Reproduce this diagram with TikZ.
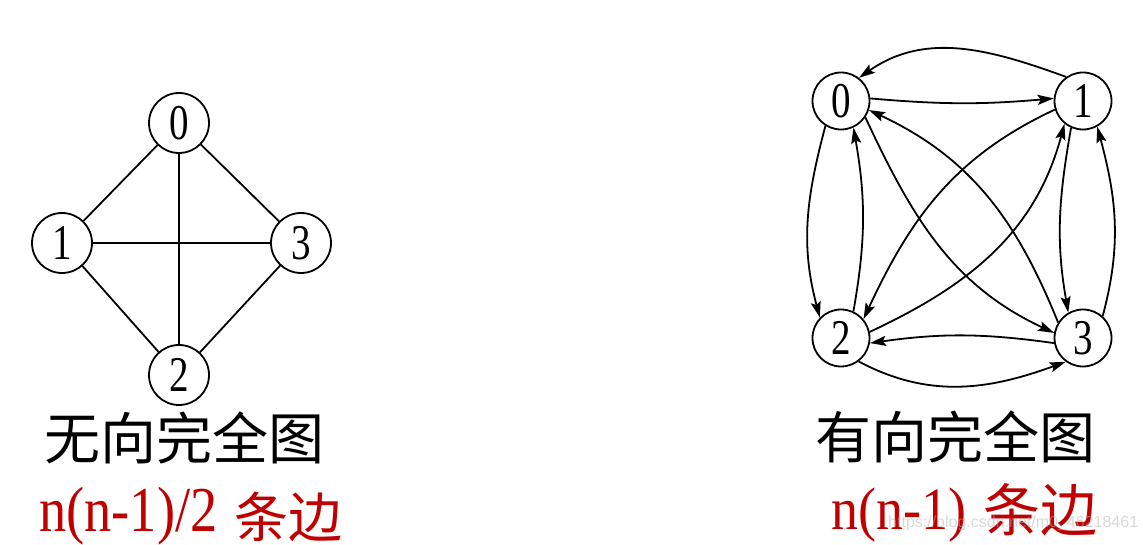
\documentclass[tikz,border=0pt]{standalone}
\usepackage{fontspec}
\setmainfont{Liberation Serif}
\newfontfamily\cjk{Noto Sans CJK SC}
\newfontfamily\wmfont{Liberation Sans}
\usetikzlibrary{arrows.meta}
\definecolor{dred}{RGB}{192,0,0}
\newcommand\dgt[1]{\scalebox{0.78}[1]{#1}}
\tikzset{
  vtx/.style={circle, draw, line width=1.8pt, inner sep=0pt, minimum size=#1,
              font=\fontsize{50}{50}\selectfont},
  uline/.style={line width=1.8pt},
  darc/.style={line width=1.8pt, -{Stealth[length=16pt,width=10pt,inset=3pt]}},
  ttl/.style={inner sep=0pt, font=\cjk\fontsize{56}{56}\selectfont},
  redlat/.style={inner sep=0pt, anchor=base west, text=dred},
  redcjk/.style={inner sep=0pt, text=dred},
}
\begin{document}
\begin{tikzpicture}[x=1pt,y=1pt]
\fill[white] (0,0) rectangle (1143,545);
\useasboundingbox (0,0) rectangle (1143,545);

% undirected complete graph
\node[vtx=60] (l0) at (179,422) {\dgt{0}};
\node[vtx=60] (l1) at (62,302) {\dgt{1}};
\node[vtx=60] (l3) at (301,302) {\dgt{3}};
\node[vtx=60] (l2) at (179,170) {\dgt{2}};
\draw[uline] (l0) -- (l1);
\draw[uline] (l0) -- (l3);
\draw[uline] (l0) -- (l2);
\draw[uline] (l1) -- (l3);
\draw[uline] (l1) -- (l2);
\draw[uline] (l3) -- (l2);

% directed complete graph
\node[vtx=57] (r0) at (841,444) {\dgt{0}};
\node[vtx=57] (r1) at (1083,444) {\dgt{1}};
\node[vtx=57] (r2) at (841,207) {\dgt{2}};
\node[vtx=57] (r3) at (1083,207) {\dgt{3}};

\draw[darc] (r1.125) to[out=160,in=35] (r0.52);
\draw[darc] (r0.5) to[out=-5,in=185] (r1.175);
\draw[darc] (r0.238) to[out=255,in=105] (r2.136);
\draw[darc] (r2.65) to[out=80,in=-80] (r0.-65);
\draw[darc] (r1.246) to[out=-100,in=100] (r3.120);
\draw[darc] (r3.48) to[out=75,in=-75] (r1.-61);
\draw[darc] (r2.-53) to[out=-28,in=200] (r3.234);
\draw[darc] (r3.190) to[out=172,in=8] (r2.-10);
\draw[darc] (r0.-34) to[out=-65,in=155] (r3.170);
\draw[darc] (r3.148) to[out=112,in=-25] (r0.-18);
\draw[darc] (r1.197) to[out=205,in=65] (r2.40);
\draw[darc] (r2.12) to[out=25,in=-105] (r1.231);

% captions
\node[ttl] (t1) at (184.5,107) {无向完全图};
\node[ttl] (t2) at (955.5,108.5) {有向完全图};

\node[redlat, font=\fontsize{64}{64}\selectfont] (f1) at (39,13) {\scalebox{0.85}[1]{n(n-1)/2}};
\node[redcjk, font=\cjk\fontsize{54}{54}\selectfont] (e1) at (288.5,28) {条边};
\node[redlat, font=\fontsize{60}{60}\selectfont] (f2) at (831,15) {\scalebox{0.9}[1]{n(n-1)}};
\node[redcjk, font=\cjk\fontsize{57}{57}\selectfont] (e2) at (1040,35) {条边};

\node[inner sep=0pt, anchor=base west, font=\wmfont\fontsize{16}{16}\selectfont,
      text=gray!60, opacity=0.5] (wm) at (888,17) {https://blog.csdn.net/m0\_46218461};
\end{tikzpicture}
\end{document}
